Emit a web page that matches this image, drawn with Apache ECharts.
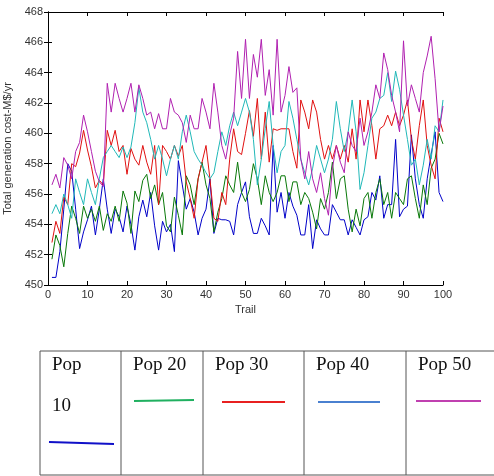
<!DOCTYPE html>
<html>
<head>
<meta charset="utf-8">
<script src="https://cdn.jsdelivr.net/npm/echarts@6/dist/echarts.min.js"></script>
<style>
  html, body { margin: 0; padding: 0; background: #fff; }
  #chart { width: 494px; height: 476px; }
</style>
</head>
<body>
<div id="chart"></div>
<script>
// series values, trail 1..100
const pop10 = [450.5,450.5,452.2,455,458,457.5,455,452.4,453.5,454.3,455.2,453.3,455,457,455,453.4,455,454.5,453.5,455.2,454,452.3,454.5,455.6,454.5,
  456.1,453.9,452.3,454.2,453.5,454,452.2,458.2,456.6,455,455.7,454.8,453.3,454.4,455,457,453.4,454.4,454.3,454.3,454.2,453.3,455.3,456.1,
  456.8,454.5,453.4,453.4,454.4,453.9,453.3,459.2,454.8,456.1,454.4,456.1,455.2,454.6,453.3,453.3,455.3,452.4,454.3,453.7,453.3,453.3,455.3,454.8,454.3,
  454.3,453.3,454.3,453.8,453.3,454.3,454.5,456.1,455.6,457.2,454.4,455.3,455.3,459.6,454.5,455,455.2,459.9,457,455.3,454.4,457,458.6,460.1,456.1,455.5]
const pop20 = [451.7,453.3,452.6,451.2,453.4,455.2,454.4,453.4,455.2,454.4,455,454.2,455.2,453.6,454.7,454.2,455.2,454.2,456.2,455.4,453.4,456.2,455.5,456.9,457.3,
  455.7,456.6,455.3,456.1,453.9,453.5,455.8,454.6,453.3,457.2,456.6,455.3,457,458.1,456.6,455.7,453.5,454.8,455.7,457.2,456.6,456.1,458.1,456.1,455.5,
  456.3,458,457,455.3,457.2,456.1,455.5,456.1,457.2,457.2,455.5,456.8,456.8,455.3,456.1,455.7,454.8,453.7,455.7,455,456.1,458.1,455.7,457,
  457.2,455,453.5,455,453.9,455.7,456.1,454.4,456.1,457,455.3,456.1,454.4,456.1,455.7,455.3,457,457.2,455.7,454.4,456.6,455.3,457.7,458.3,460,459.3]
const pop30 = [452.8,454.2,453.4,455.8,455.3,458,457.8,458.7,460.2,458.9,457.8,456.4,456.9,456.6,460.2,459.2,460.2,458.8,459.2,457.3,459,458.3,457.9,459.2,458.1,
  457.3,459.2,455.3,459.2,458.8,458.3,459.2,458.5,459.2,456.8,455.7,454.4,457,458.1,459.2,457,454.4,454.2,456.1,455.3,458.3,460.3,458.8,458.6,460,
  461.5,459.8,462.3,458.3,461.4,458.1,460.3,460.2,460.3,460.3,460.3,458.8,457.7,462.2,461.4,460.3,462.2,461.4,459.6,458.3,459.2,458.3,459.2,458.3,
  459.2,458.1,460.3,458.3,462.2,460.1,462.2,460.5,458.3,460.3,460.5,461.2,460.5,461.4,460.5,461.2,462.2,459.6,458.3,460.5,462.2,459.2,457.9,457,461,460.1]
const pop40 = [454.7,455.3,454.7,456,455.3,454.4,457,456.1,455.3,457,456.1,455.3,457,458.4,458.8,459.2,458.8,458.4,459.1,458.4,459.1,460.7,463,461.4,460.7,
  459.6,458.3,459.2,458.3,457.2,458.3,459.2,458.3,460.1,461.2,460.1,458.8,458.3,457.9,457.4,457,457.4,458.8,460.1,459.2,460.5,461.4,460.5,461.4,462.3,
  461.4,459.6,456.6,458.3,460.3,462.1,459.2,457.4,458.8,459.2,462.1,461,459.6,458.3,457.4,456.6,457.7,459.2,458.3,457.4,458.3,459.6,462.1,460.3,
  458.8,460.1,462.2,460.1,456.3,457.4,459.2,461,461.4,462.3,462.5,464,462.1,464.1,462.9,461.2,459.6,457.9,458.3,456.6,457.9,459.6,458.3,460.5,460.1,462.2]
const pop50 = [456.6,457.3,456.4,458.4,457.9,457,458.8,459.4,461.2,460.1,458.8,457.5,456.8,456.5,463.3,461.4,463.3,462.3,461.4,462.3,463.3,461.4,463.2,462.3,461.2,
  461.4,460.3,461.3,460.3,460.3,462.3,461.4,461.2,460.7,459.4,461.2,460.3,460.3,462.3,461.4,460.3,463.3,461.4,459.2,458.3,459.9,461,465.4,462.3,466.2,
  462.3,465.2,463.7,466.2,462.5,464.2,461.2,466.2,461.4,462.5,464.4,462.7,463,458.3,457,458.8,457,456.1,457.4,455.7,454.6,457.7,459.2,458.1,
  457.4,460.1,459.2,458.8,461,459.2,460.1,461.4,463.2,462.3,465.3,464.2,462.5,461.4,460.1,466.1,461.8,463.2,462.3,461.4,464,465.1,466.4,463.6,460.1,461.8]

const seriesNames = ['Pop 10', 'Pop 20', 'Pop 30', 'Pop 40', 'Pop 50']
const lineColors = ['#0000c8', '#087808', '#e01010', '#20b8b8', '#b020b0']
const legendColors = ['#1010c8', '#20b060', '#e82020', '#4a80d0', '#c040b0']
const yTicks = [450, 452, 454, 456, 458, 460, 462, 464, 466, 468]
const xTicks = [0, 10, 20, 30, 40, 50, 60, 70, 80, 90, 100]

const allData = [pop10, pop20, pop30, pop40, pop50]
const chart = echarts.init(document.getElementById('chart'))

// legend drawn as a table under the chart
const cellEdges = [40, 121, 203, 304, 406, 520]
const tableTop = 351
const tableBottom = 475
const legendLines = [
  [[49, 442], [114, 444]],
  [[134, 401], [194, 400]],
  [[222, 402], [285, 402]],
  [[318, 402], [380, 402]],
  [[416, 401], [481, 401]],
]
const graphics = []
graphics.push({
  type: 'rect', shape: { x: cellEdges[0], y: tableTop, width: cellEdges[5] - cellEdges[0], height: tableBottom - tableTop },
  style: { fill: 'none', stroke: '#555', lineWidth: 1 },
})
for (let i = 1; i < 5; i++) {
  graphics.push({
    type: 'line', shape: { x1: cellEdges[i], y1: tableTop, x2: cellEdges[i], y2: tableBottom },
    style: { stroke: '#555', lineWidth: 1 },
  })
}
const labelFont = '19px "Liberation Serif", serif'
seriesNames.forEach((name, i) => {
  const parts = i === 0 ? ['Pop', '10'] : [name]
  parts.forEach((p, j) => {
    graphics.push({
      type: 'text', left: i === 0 ? 52 : cellEdges[i] + 12, top: 356 + j * 41,
      style: { text: p, font: labelFont, fill: '#111' },
    })
  })
  const l = legendLines[i]
  graphics.push({
    type: 'line', shape: { x1: l[0][0], y1: l[0][1], x2: l[1][0], y2: l[1][1] },
    style: { stroke: legendColors[i], lineWidth: 2 },
  })
})

const axisFont = { color: '#333', fontSize: 11, fontFamily: 'Liberation Sans, Arial, sans-serif' }

chart.setOption({
  animation: false,
  grid: { left: 48, right: 51, top: 12, bottom: 191, outerBoundsMode: 'none' },
  xAxis: [
    {
      type: 'value', min: 0, max: 100, interval: 10,
      name: 'Trail', nameLocation: 'middle', nameGap: 15,
      nameTextStyle: axisFont,
      axisLine: { show: true, lineStyle: { color: '#000', width: 1 } },
      axisTick: { show: true, inside: true, length: 4, lineStyle: { color: '#000' } },
      axisLabel: { ...axisFont, margin: 4 },
      splitLine: { show: false },
    },
    {
      type: 'value', min: 0, max: 100, interval: 10, position: 'top',
      axisLine: { show: true, lineStyle: { color: '#000', width: 1 } },
      axisTick: { show: true, inside: true, length: 4, lineStyle: { color: '#000' } },
      axisLabel: { show: false },
      splitLine: { show: false },
    },
  ],
  yAxis: [
    {
      type: 'value', min: yTicks[0], max: yTicks[yTicks.length - 1], interval: 2,
      name: 'Total generation cost-M$/yr', nameLocation: 'middle', nameGap: 30,
      nameTextStyle: axisFont,
      axisLine: { show: true, lineStyle: { color: '#000', width: 1 } },
      axisTick: { show: true, inside: true, length: 4, lineStyle: { color: '#000' } },
      axisLabel: { ...axisFont, margin: 5 },
      splitLine: { show: false },
    },
    {
      type: 'value', min: yTicks[0], max: yTicks[yTicks.length - 1], interval: 2, position: 'right',
      axisLine: { show: true, lineStyle: { color: '#000', width: 1 } },
      axisTick: { show: true, inside: true, length: 4, lineStyle: { color: '#000' } },
      axisLabel: { show: false },
      splitLine: { show: false },
    },
  ],
  series: allData.map((vals, i) => ({
    name: seriesNames[i],
    type: 'line',
    data: vals.map((v, k) => [k + 1, v]),
    showSymbol: false,
    lineStyle: { color: lineColors[i], width: 1 },
    itemStyle: { color: lineColors[i] },
  })),
  graphic: graphics,
})
</script>
</body>
</html>
